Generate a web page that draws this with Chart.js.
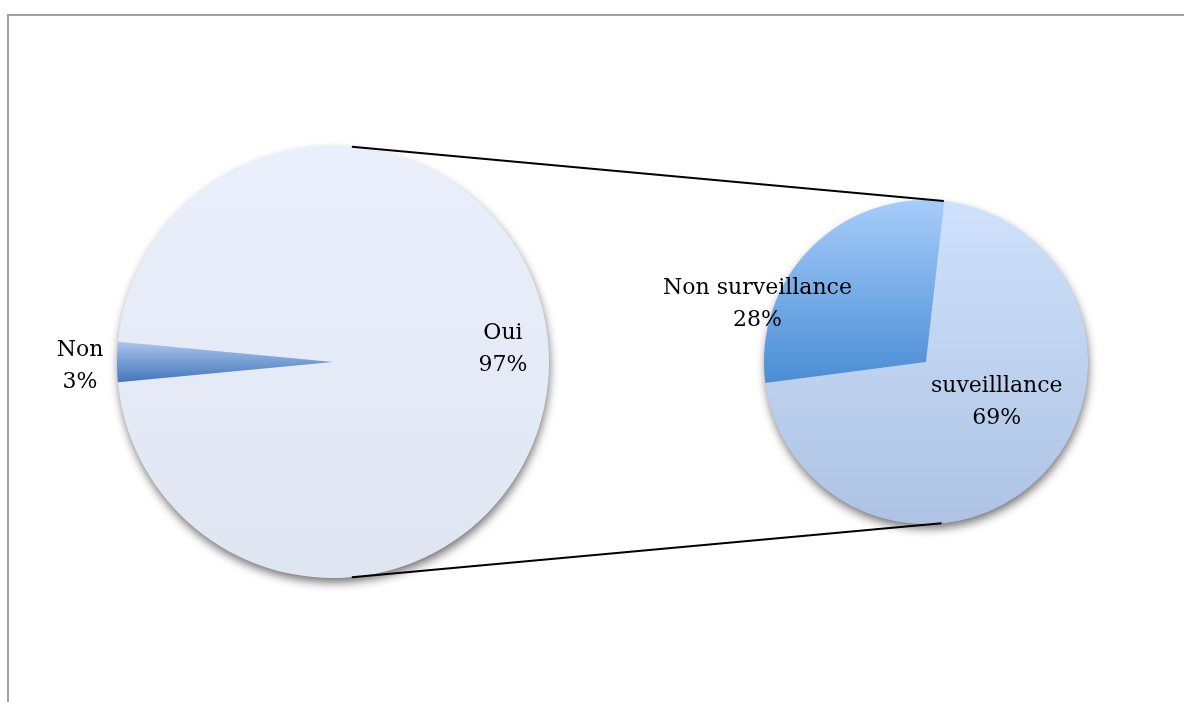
<!DOCTYPE html>
<html lang="fr">
<head>
<meta charset="utf-8">
<title>Surveillance</title>
<script src="https://cdn.jsdelivr.net/npm/chart.js@4.4.1/dist/chart.umd.min.js"></script>
<style>
    html, body { margin: 0; padding: 0; background: #fff; overflow: hidden; }
    #frame {
        position: absolute; left: 7px; top: 14px; right: -10px; bottom: -10px;
        border-top: 2px solid #a0a0a0; border-left: 2px solid #a0a0a0;
    }
    canvas { position: absolute; left: 0; top: 0; }
</style>
</head>
<body>
<div id="frame"></div>
<canvas id="mainPie" width="1184" height="702"></canvas>
<canvas id="detailPie" width="1184" height="702"></canvas>
<script>
    // --- Daten ---
    const mainLabels = ['Oui', 'Non'];
    const mainValues = [97, 3];
    const detailLabels = ['suveilllance', 'Non surveillance'];
    const detailValues = [69, 28];

    // Farbverläufe pro Segment (oben -> unten)
    const mainColors = [['#e9f0fc', '#e0e6f1'], ['#abc6ed', '#4175ba']];
    const detailColors = [['#cfe1fb', '#aec3e4'], ['#a7ccfa', '#4a8dd5']];

    const FONT = '22px "DejaVu Serif", "Liberation Serif", serif';

    // Geometrie eines Segments berechnen (vor dem Layout der Elemente verfügbar)
    function sliceBox(chart, idx) {
        const a = chart.chartArea;
        const cx = (a.left + a.right) / 2, cy = (a.top + a.bottom) / 2;
        const r = Math.min(a.right - a.left, a.bottom - a.top) / 2;
        const data = chart.data.datasets[0].data;
        const total = data.reduce((s, v) => s + v, 0);
        let start = (chart.options.rotation || 0) * Math.PI / 180 - Math.PI / 2;
        for (let i = 0; i < idx; i++) start += data[i] / total * Math.PI * 2;
        const end = start + data[idx] / total * Math.PI * 2;
        let top = cy, bottom = cy;
        for (let k = 0; k <= 90; k++) {
            const t = start + (end - start) * k / 90;
            const y = cy + r * Math.sin(t);
            top = Math.min(top, y);
            bottom = Math.max(bottom, y);
        }
        return { top, bottom };
    }

    function gradientFill(colors) {
        return (context) => {
            const chart = context.chart;
            const pair = colors[context.dataIndex];
            if (!chart.chartArea) return pair[1];
            const box = sliceBox(chart, context.dataIndex);
            const g = chart.ctx.createLinearGradient(0, box.top, 0, box.bottom);
            g.addColorStop(0, pair[0]);
            g.addColorStop(1, pair[1]);
            return g;
        };
    }

    // Weicher Schatten unter dem Kreis
    const pieShadow = {
        id: 'pieShadow',
        beforeDatasetsDraw(chart) {
            const arc = chart.getDatasetMeta(0).data[0];
            if (!arc) return;
            const ctx = chart.ctx;
            ctx.save();
            ctx.shadowColor = 'rgba(0, 0, 0, 0.55)';
            ctx.shadowBlur = 10;
            ctx.shadowOffsetX = 1;
            ctx.shadowOffsetY = 5;
            ctx.fillStyle = '#dde4f0';
            ctx.beginPath();
            ctx.arc(arc.x, arc.y, arc.outerRadius - 0.5, 0, Math.PI * 2);
            ctx.fill();
            ctx.restore();
        }
    };

    // Beschriftungen: Position relativ zum Mittelpunkt in Radius-Einheiten
    const sliceLabels = {
        id: 'sliceLabels',
        afterDatasetsDraw(chart, args, opts) {
            const meta = chart.getDatasetMeta(0);
            const ctx = chart.ctx;
            const values = chart.data.datasets[0].data;
            ctx.save();
            ctx.font = FONT;
            ctx.fillStyle = '#000';
            ctx.textAlign = 'center';
            ctx.textBaseline = 'middle';
            meta.data.forEach((arc, i) => {
                const p = opts.places[i];
                const x = arc.x + p[0] * arc.outerRadius;
                const y = arc.y + p[1] * arc.outerRadius;
                ctx.fillText(chart.data.labels[i], x, y - 16);
                ctx.fillText(values[i] + '%', x, y + 16);
            });
            ctx.restore();
        }
    };

    const baseOptions = {
        responsive: false,
        animation: false,
        plugins: { legend: { display: false }, tooltip: { enabled: false } },
        elements: { arc: { borderWidth: 0 } }
    };

    // --- Hauptkreis ---
    const mainChart = new Chart(document.getElementById('mainPie'), {
        type: 'pie',
        data: {
            labels: mainLabels,
            datasets: [{ data: mainValues, backgroundColor: gradientFill(mainColors) }]
        },
        options: {
            ...baseOptions,
            rotation: -84.6,
            layout: { padding: { left: 117, right: 635, top: 146, bottom: 124 } },
            plugins: {
                ...baseOptions.plugins,
                sliceLabels: { places: [[0.787, -0.06], [-1.171, 0.019]] }
            }
        },
        plugins: [pieShadow, sliceLabels]
    });

    // Verbindungslinien zwischen den beiden Kreisen
    const connectors = {
        id: 'connectors',
        afterDraw(chart) {
            const a = mainChart.getDatasetMeta(0).data[0];
            const b = chart.getDatasetMeta(0).data[0];
            const pt = (arc, deg) => {
                const t = (deg - 90) * Math.PI / 180;
                return [arc.x + arc.outerRadius * Math.cos(t), arc.y + arc.outerRadius * Math.sin(t)];
            };
            const ctx = chart.ctx;
            ctx.save();
            ctx.strokeStyle = '#000';
            ctx.lineWidth = 2;
            [[5, 6.3], [175, 174.5]].forEach(([da, db]) => {
                const p = pt(a, da), q = pt(b, db);
                ctx.beginPath();
                ctx.moveTo(p[0], p[1]);
                ctx.lineTo(q[0], q[1]);
                ctx.stroke();
            });
            ctx.restore();
        }
    };

    // --- Detailkreis ---
    new Chart(document.getElementById('detailPie'), {
        type: 'pie',
        data: {
            labels: detailLabels,
            datasets: [{ data: detailValues, backgroundColor: gradientFill(detailColors) }]
        },
        options: {
            ...baseOptions,
            rotation: 6.5,
            layout: { padding: { left: 764, right: 96, top: 200, bottom: 178 } },
            plugins: {
                ...baseOptions.plugins,
                sliceLabels: { places: [[0.437, 0.246], [-1.04, -0.357]] }
            }
        },
        plugins: [pieShadow, sliceLabels, connectors]
    });
</script>
</body>
</html>
